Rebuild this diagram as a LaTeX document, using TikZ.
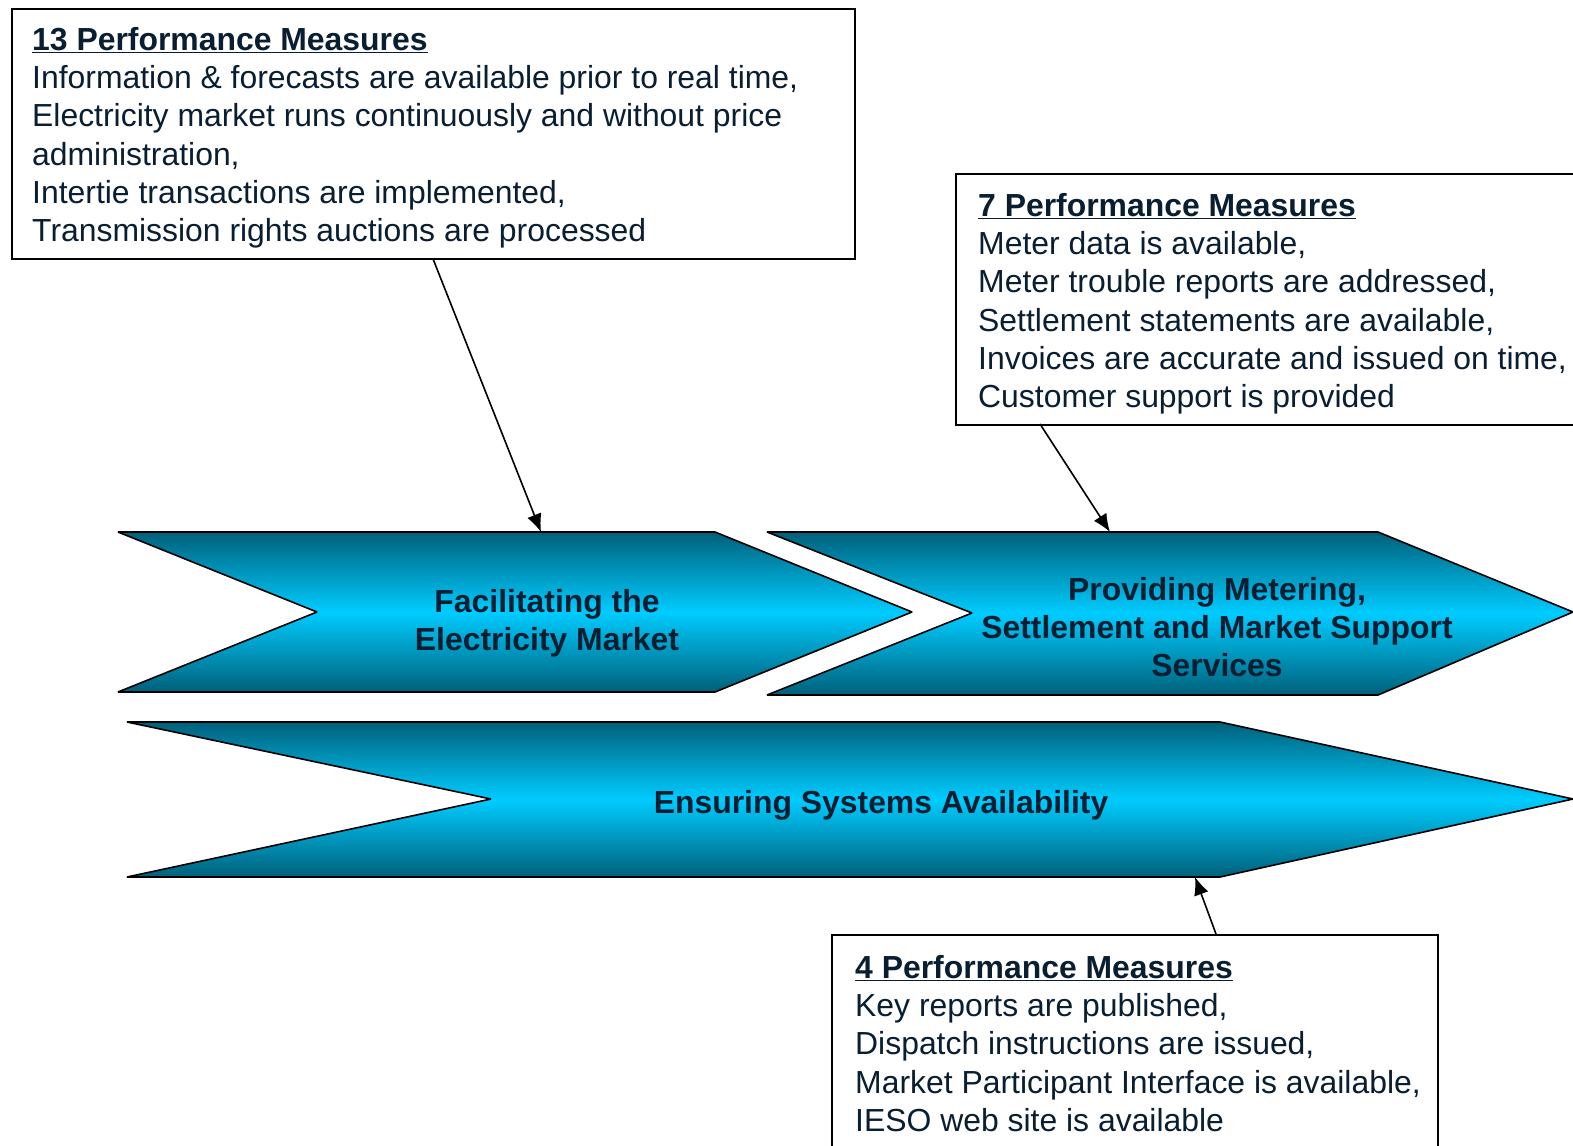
\documentclass[tikz,border=0pt]{standalone}
\usepackage{fontspec}
\setmainfont{Liberation Sans}
\usetikzlibrary{arrows.meta,calc}
\definecolor{txt}{RGB}{10,30,50}
\definecolor{tealdark}{RGB}{0,96,122}
\definecolor{cyanmid}{RGB}{0,204,255}
\begin{document}
\begin{tikzpicture}[x=1pt,y=-1pt,
 pmbox/.style={draw=black, line width=1.6pt, fill=white, anchor=north west, inner sep=0pt},
 pmtext/.style={anchor=north west, inner sep=0pt, align=left, text=txt, font=\fontsize{31.9}{38.3}\selectfont},
 chev/.style={draw=black, line width=1.6pt, line join=bevel, top color=tealdark, bottom color=tealdark, middle color=cyanmid},
 chevtext/.style={align=center, text=txt, font=\bfseries\fontsize{31.9}{38.3}\selectfont, inner sep=0pt},
 conn/.style={draw=black, line width=1.6pt, -{Latex[length=18pt,width=15pt]}}]
\useasboundingbox (0,0) rectangle (1573,1145);
\clip (0,0) rectangle (1573,1145);
% chevrons
\path[chev] (118,532) -- (715,532) -- (912,612) -- (715,692) -- (118,692) -- (317,612) -- cycle;
\path[chev] (767,532) -- (1378,532) -- (1573,612) -- (1378,695) -- (767,695) -- (972,613) -- cycle;
\path[chev] (127,722) -- (1220,722) -- (1573,799) -- (1220,877) -- (127,877) -- (491,799) -- cycle;
\node[chevtext] (f1) at (547,623) {Facilitating the\\Electricity Market};
\node[chevtext] (f2) at (1217,627) {Providing Metering,\\Settlement and Market Support\\Services};
\node[chevtext] (f3) at (881,805) {Ensuring Systems Availability};
\coordinate (c1t) at (541,532);
\coordinate (c2t) at (1110,532);
\coordinate (c3b) at (1195,877);
% boxes
\node[pmbox, minimum width=843pt, minimum height=250pt] (b1) at (11,8) {};
\node[pmtext] (t1) at (32,27) {\textbf{\underline{13 Performance Measures}}\\
Information \& forecasts are available prior to real time,\\
Electricity market runs continuously and without price\\
administration,\\
Intertie transactions are implemented,\\
Transmission rights auctions are processed};
\node[pmbox, minimum width=640pt, minimum height=251pt] (b2) at (955,173) {};
\node[pmtext] (t2) at (978,193) {\textbf{\underline{7 Performance Measures}}\\
Meter data is available,\\
Meter trouble reports are addressed,\\
Settlement statements are available,\\
Invoices are accurate and issued on time,\\
Customer support is provided};
\node[pmbox, minimum width=606pt, minimum height=240pt] (b3) at (831,934) {};
\node[pmtext] (t3) at (855,955) {\textbf{\underline{4 Performance Measures}}\\
Key reports are published,\\
Dispatch instructions are issued,\\
Market Participant Interface is available,\\
IESO web site is available};
\coordinate (a2s) at (1040,424);
\coordinate (a3s) at (1216,934);
% connectors
\draw[conn] (b1.south) -- (c1t);
\draw[conn] (a2s) -- (c2t);
\draw[conn] (a3s) -- (c3b);
\end{tikzpicture}
\end{document}
